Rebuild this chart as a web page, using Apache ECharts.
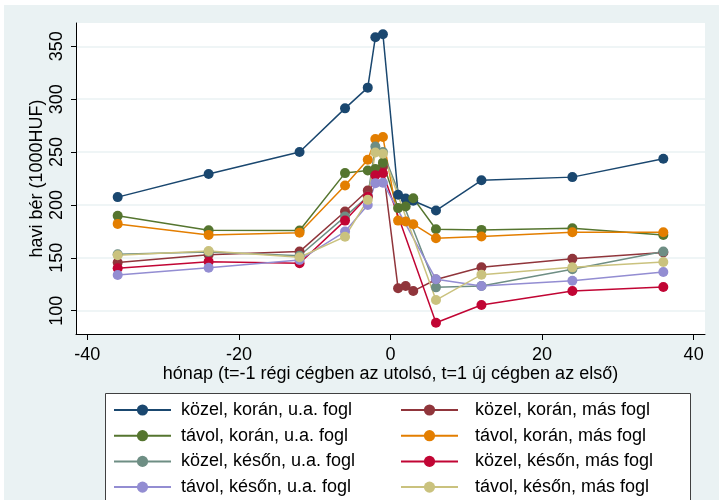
<!DOCTYPE html>
<html>
<head>
<meta charset="utf-8">
<script src="https://cdn.jsdelivr.net/npm/echarts@6/dist/echarts.min.js"></script>
<style>
html,body{margin:0;padding:0;background:#ffffff;width:719px;height:500px;overflow:hidden;}
#chart{position:absolute;left:4px;top:5px;width:715px;height:495px;}
</style>
</head>
<body>
<div id="chart"></div>
<script>
// months (x values)
const monthsEarly = [-36, -24, -12, -6, -3, -2, -1, 1, 2, 3, 6, 12, 24, 36];
const monthsLate  = [-36, -24, -12, -6, -3, -2, -1, 6, 12, 24, 36];

// series names
const names = [
  'közel, korán, u.a. fogl', 'közel, korán, más fogl',
  'távol, korán, u.a. fogl', 'távol, korán, más fogl',
  'közel, későn, u.a. fogl', 'közel, későn, más fogl',
  'távol, későn, u.a. fogl', 'távol, későn, más fogl'
];

// monthly wage values (1000 HUF)
const kozelKoranUa   = [207.4, 229.2, 250, 291.3, 310.9, 358.5, 361.4, 209.6, 206, 204, 194.7, 223.3, 226.3, 243.7];
const kozelKoranMas  = [145.5, 153, 155.9, 193.8, 213.6, 233, 236, 121.2, 123.4, 118.6, 129.5, 141.1, 149.2, 155];
const tavolKoranUa   = [189.7, 176, 175.8, 230.1, 232.6, 234, 240, 197, 198.5, 206.4, 177, 176.4, 178, 171.7];
const tavolKoranMas  = [182.1, 171.7, 173.8, 218.4, 242.7, 262.3, 264.2, 185.2, 184.3, 181.8, 168.5, 170.1, 174.2, 174.2];
const kozelKesonUa   = [153.4, 155.5, 152, 189, 208, 255.3, 250, 122.1, 123.4, 139.2, 155.9];
const kozelKesonMas  = [140.1, 146.4, 144.9, 185.2, 208, 228, 230, 88.6, 105.4, 118.6, 122.4];
const tavolKesonUa   = [133.8, 140.7, 148, 174.8, 200, 220.6, 221, 129.7, 123.4, 128.4, 136.6];
const tavolKesonMas  = [152.5, 156.5, 150.6, 170, 204.8, 249.6, 248.4, 110.1, 134.1, 141, 146.1];

// tick labels
const xTicks = [-40, -20, 0, 20, 40];
const yTicks = [100, 150, 200, 250, 300, 350];

const colors = ['#1a476f', '#90353b', '#55752f', '#e37e00', '#6e8e84', '#c10534', '#938dd2', '#cac27e'];
const valuesList = [kozelKoranUa, kozelKoranMas, tavolKoranUa, tavolKoranMas, kozelKesonUa, kozelKesonMas, tavolKesonUa, tavolKesonMas];
const monthsList = [monthsEarly, monthsEarly, monthsEarly, monthsEarly, monthsLate, monthsLate, monthsLate, monthsLate];

const FONT = '"Liberation Sans", Arial, sans-serif';
const FS = 18;

const series = names.map((n, i) => ({
  name: n,
  type: 'line',
  data: monthsList[i].map((m, j) => [m, valuesList[i][j]]),
  symbol: 'circle',
  symbolSize: 10,
  showAllSymbol: true,
  itemStyle: { color: colors[i] },
  lineStyle: { color: colors[i], width: 1.5 },
  emphasis: { disabled: true },
  animation: false
}));

const legendText1 = { fontSize: FS, color: '#000', fontFamily: FONT, lineHeight: 18, padding: [0, 0, 0, 5] };
const legendText2 = { fontSize: FS, color: '#000', fontFamily: FONT, lineHeight: 18, padding: [0, 0, 0, 12] };

const chart = echarts.init(document.getElementById('chart'), null, { renderer: 'canvas' });
chart.setOption({
  backgroundColor: '#eaf2f3',
  animation: false,
  textStyle: { fontFamily: FONT },
  grid: {
    left: 72, top: 18, width: 629, height: 311,
    show: true, backgroundColor: '#ffffff', borderWidth: 0
  },
  xAxis: {
    type: 'value', min: -41.5, max: 41.5,
    name: 'hónap (t=-1 régi cégben az utolsó, t=1 új cégben az első)',
    nameLocation: 'middle', nameGap: 31, nameMoveOverlap: false,
    nameTextStyle: { fontSize: FS, color: '#000', fontFamily: FONT },
    axisLine: { show: true, onZero: false, lineStyle: { color: '#000', width: 1 } },
    axisTick: { show: true, length: 6, customValues: xTicks, lineStyle: { color: '#000' } },
    axisLabel: { customValues: xTicks, fontSize: FS, color: '#000', margin: 12, fontFamily: FONT },
    splitLine: { show: false }
  },
  yAxis: {
    type: 'value', min: 78, max: 372,
    name: 'havi bér (1000HUF)',
    nameLocation: 'middle', nameGap: 30, nameMoveOverlap: false,
    nameTextStyle: { fontSize: FS, color: '#000', fontFamily: FONT },
    axisLine: { show: true, onZero: false, lineStyle: { color: '#000', width: 1 } },
    axisTick: { show: true, length: 5, customValues: yTicks, lineStyle: { color: '#000' } },
    axisLabel: { customValues: yTicks, rotate: 90, fontSize: FS, color: '#000', margin: 10, fontFamily: FONT },
    splitLine: { show: true, lineStyle: { color: '#eaf2f3', width: 1.5 } }
  },
  graphic: [{
    type: 'rect', left: 101, top: 388, z: 0,
    shape: { width: 585, height: 130 },
    style: { fill: '#ffffff', stroke: '#404040', lineWidth: 1 }
  }],
  legend: [
    {
      data: [names[0], names[2], names[4], names[6]],
      orient: 'vertical', left: 109, top: 396, padding: 0,
      itemWidth: 57, itemHeight: 14, itemGap: 7.7,
      textStyle: legendText1
    },
    {
      data: [names[1], names[3], names[5], names[7]],
      orient: 'vertical', left: 396, top: 396, padding: 0,
      itemWidth: 57, itemHeight: 14, itemGap: 7.7,
      textStyle: legendText2
    }
  ],
  series: series
});
</script>
</body>
</html>
